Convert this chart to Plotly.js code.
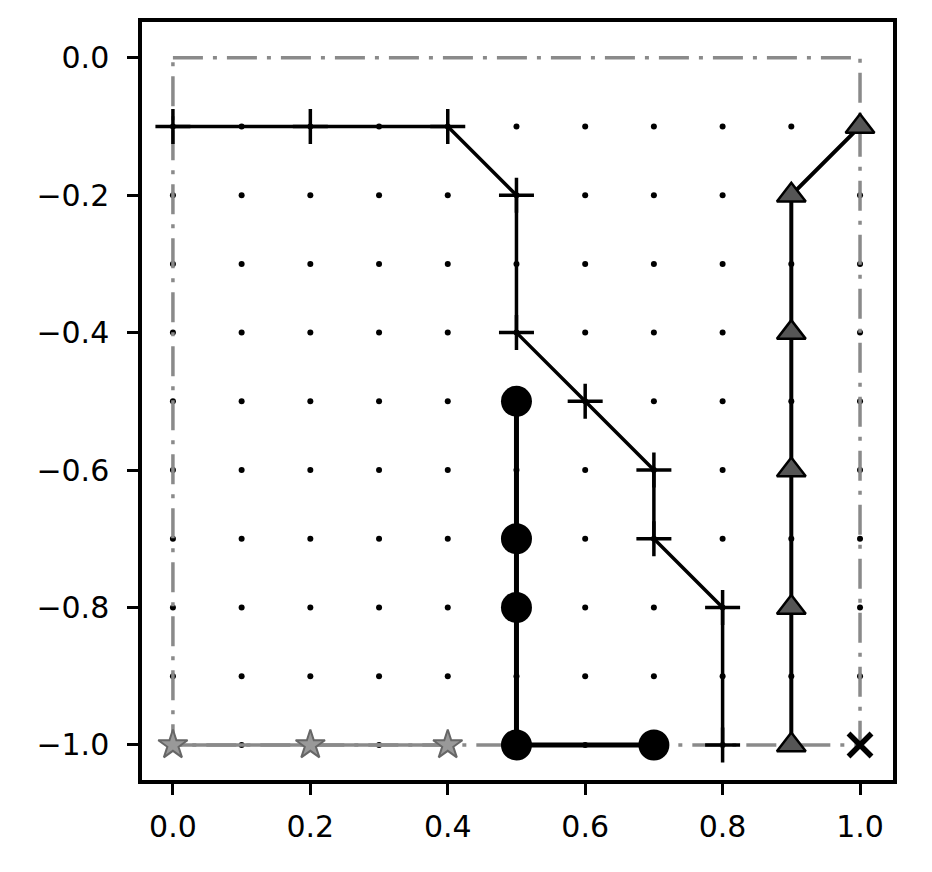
<!DOCTYPE html>
<html>
<head>
<meta charset="utf-8">
<script src="https://cdn.plot.ly/plotly-3.0.1.min.js"></script>
<style>html,body{margin:0;padding:0;background:#fff;}#chart{width:932px;height:872px;}</style>
</head>
<body>
<div id="chart"></div>
<script>
// grid of dots
const gridX = [0.0, 0.1, 0.2, 0.3, 0.4, 0.5, 0.6, 0.7, 0.8, 0.9, 1.0];
const gridY = [-0.1, -0.2, -0.3, -0.4, -0.5, -0.6, -0.7, -0.8, -0.9, -1.0];
// boundary (dash-dot rectangle)
const boxX = [0, 1, 1, 0, 0];
const boxY = [0, 0, -1, -1, 0];
// path with plus markers
const plusX = [0.0, 0.2, 0.4, 0.5, 0.5, 0.6, 0.7, 0.7, 0.8, 0.8];
const plusY = [-0.1, -0.1, -0.1, -0.2, -0.4, -0.5, -0.6, -0.7, -0.8, -1.0];
// path with circles
const circX = [0.5, 0.5, 0.5, 0.5, 0.7];
const circY = [-0.5, -0.7, -0.8, -1.0, -1.0];
// path with triangles
const triX = [1.0, 0.9, 0.9, 0.9, 0.9, 0.9];
const triY = [-0.1, -0.2, -0.4, -0.6, -0.8, -1.0];
// path with stars
const starX = [0.0, 0.2, 0.4];
const starY = [-1.0, -1.0, -1.0];
// end marker
const endX = [1.0];
const endY = [-1.0];
// ticks
const xTicks = [0.0, 0.2, 0.4, 0.6, 0.8, 1.0];
const yTicks = [0.0, -0.2, -0.4, -0.6, -0.8, -1.0];

const dotsX = [], dotsY = [];
gridY.forEach(y => gridX.forEach(x => { dotsX.push(x); dotsY.push(y); }));

const traces = [
  {x: dotsX, y: dotsY, mode: 'markers', marker: {color: '#000', size: 6}},
  {x: boxX, y: boxY, mode: 'lines', line: {color: '#8a8a8a', width: 3.5, dash: '30px,10px,4px,10px'}},
  {x: starX, y: starY, mode: 'lines+markers', line: {color: '#8a8a8a', width: 3.5},
   marker: {symbol: 'star', size: 22, color: '#999', line: {color: '#666', width: 2}}},
  {x: plusX, y: plusY, mode: 'lines+markers', line: {color: '#000', width: 3.5},
   marker: {symbol: 'cross-thin-open', size: 25, color: '#000', line: {color: '#000', width: 3.5}}},
  {x: circX, y: circY, mode: 'lines+markers', line: {color: '#000', width: 5},
   marker: {symbol: 'circle', size: 31, color: '#000'}},
  {x: triX, y: triY, mode: 'lines+markers', line: {color: '#000', width: 4},
   marker: {symbol: 'triangle-up', size: 25, color: '#555', line: {color: '#000', width: 2.5}}},
  {x: endX, y: endY, mode: 'markers',
   marker: {symbol: 'x-thin-open', size: 23, color: '#000', line: {color: '#000', width: 5.5}}}
];

const axisBase = {
  showgrid: false, zeroline: false, showline: true, mirror: true,
  linecolor: '#000', linewidth: 3.5, ticks: 'outside', ticklen: 11, tickwidth: 3,
  tickcolor: '#000', tickformat: '.1f', tickfont: {family: 'DejaVu Sans', size: 30, color: '#000'}
};

const layout = {
  width: 932, height: 872,
  margin: {l: 142, r: 39, t: 22, b: 92},
  paper_bgcolor: '#fff', plot_bgcolor: '#fff',
  showlegend: false,
  font: {family: 'DejaVu Sans', color: '#000', size: 30},
  xaxis: Object.assign({}, axisBase, {range: [-0.045, 1.048], tickvals: xTicks, ticklabelstandoff: 6}),
  yaxis: Object.assign({}, axisBase, {range: [-1.051, 0.052], tickvals: yTicks, ticklabelstandoff: 12})
};

Plotly.newPlot('chart', traces, layout, {displayModeBar: false});
</script>
</body>
</html>
